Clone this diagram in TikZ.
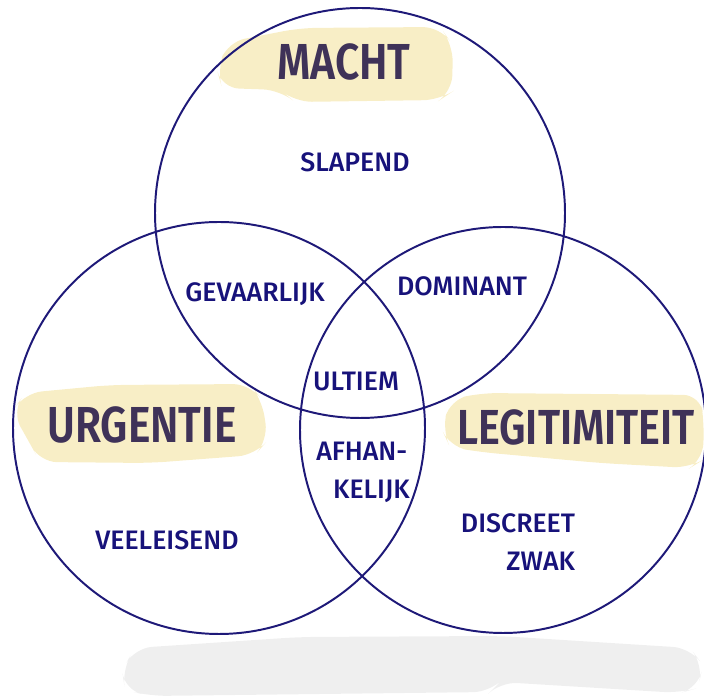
\documentclass[tikz,border=0pt]{standalone}
\usepackage{fontspec}
\setmainfont{Fira Sans}
\newfontfamily\hand[FakeStretch=1.0]{Fira Sans Medium}
\newfontfamily\handbold[FakeStretch=0.84]{Fira Sans SemiBold}
\definecolor{navy}{HTML}{1E1978}
\definecolor{inkt}{HTML}{17127A}
\definecolor{paars}{HTML}{3F3258}
\definecolor{geel}{HTML}{F8EEC6}
\definecolor{schaduw}{HTML}{EFEFEF}
\tikzset{
  cirkel/.style={draw=navy, line width=1.4pt},
  woord/.style={text=inkt, font=\hand\fontsize{19}{27}\selectfont},
  titel/.style={text=paars, font=\handbold\fontsize{36}{40}\selectfont},
  marker/.style={fill=geel, rounded corners=12pt},
}
\begin{document}
\begin{tikzpicture}[x=0.025cm, y=0.025cm]
	\useasboundingbox (0,0) rectangle (704,696);
	% schaduw onderaan
	\fill[schaduw, rounded corners=12pt] (122,26) -- (135,48) -- (300,59) -- (500,60) -- (690,48) -- (703,31)
		-- (698,8) -- (680,3) -- (500,14) -- (490,4) -- (150,0) -- (125,6) -- cycle;
	% markeerstift
	\fill[marker] (217,626) -- (228,654) -- (300,668) -- (440,669) -- (453,651) -- (452,604)
		-- (440,596) -- (295,594) -- (280,606) -- (222,608) -- cycle;
	\fill[marker] (12,284) -- (25,303) -- (110,311) -- (250,312) -- (262,296) -- (268,256)
		-- (255,241) -- (150,233) -- (40,234) -- (28,256) -- cycle;
	\fill[marker] (442,266) -- (450,296) -- (480,303) -- (700,301) -- (704,276) -- (703,236)
		-- (690,228) -- (600,233) -- (480,244) -- (450,249) -- cycle;
	% cirkels
	\draw[cirkel] (360,483) circle[radius=205];
	\draw[cirkel] (219,268) circle[radius=206];
	\draw[cirkel] (503,266) circle[radius=203];
	% titels
	\node[titel] (macht) at (344,634) {MACHT};
	\node[titel] (urgentie) at (142,271) {URGENTIE};
	\node[titel, font=\handbold\fontsize{35}{40}\selectfont] (legitimiteit) at (576,269) {LEGITIMITEIT};
	% klassen
	\node[woord] (slapend) at (355,534) {SLAPEND};
	\node[woord] (gevaarlijk) at (255,402) {GEVAARLIJK};
	\node[woord] (dominant) at (462,410) {DOMINANT};
	\node[woord] (ultiem) at (356,315) {ULTIEM};
	\node[woord, align=left] (afhankelijk) at (363,224) {AFHAN-\\\hspace*{12pt}KELIJK};
	\node[woord] (veeleisend) at (167,156) {VEELEISEND};
	\node[woord, align=right] (discreet) at (518,154) {DISCREET\\ZWAK};
\end{tikzpicture}
\end{document}
